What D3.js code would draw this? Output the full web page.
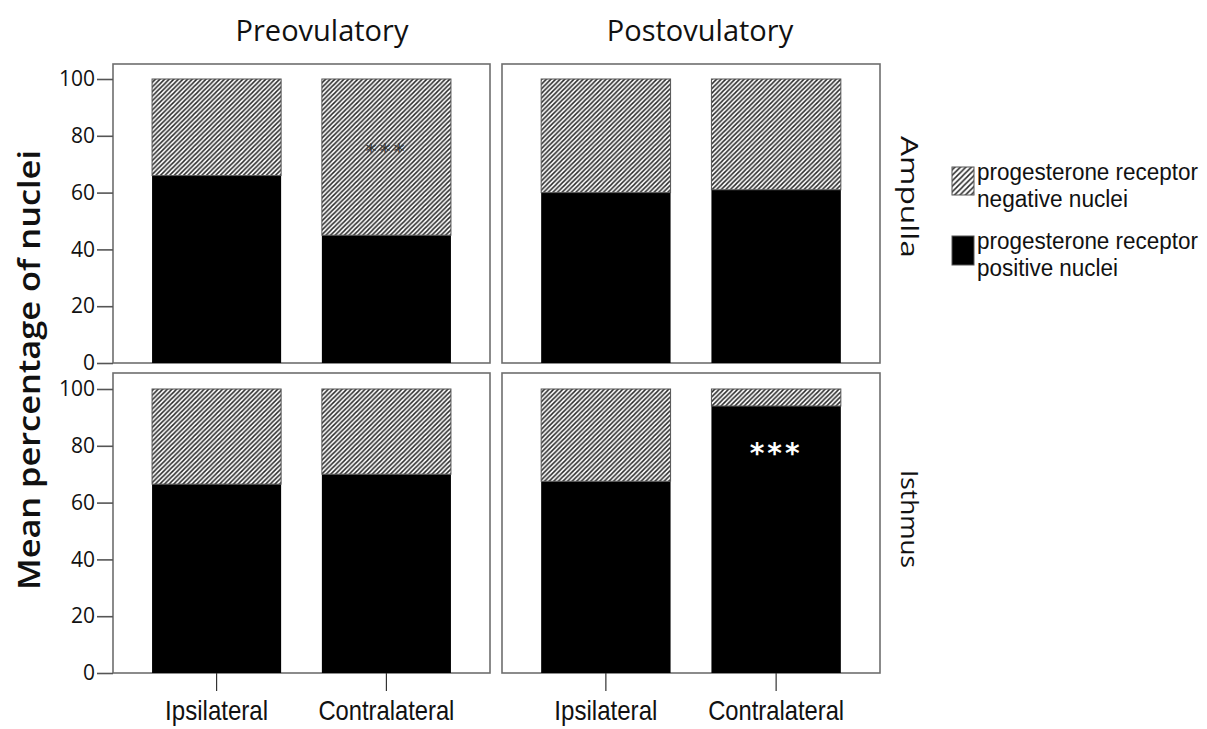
<!DOCTYPE html>
<html lang="en">
<head>
<meta charset="utf-8">
<script src="https://d3js.org/d3.v7.min.js"></script>
<style>
  body { margin: 0; background: #fff; }
  svg text { fill: #111; }
</style>
</head>
<body>
<div id="chart"></div>
<script>
// data
var phases = ["Preovulatory", "Postovulatory"];
var regions = ["Ampulla", "Isthmus"];
var sides = ["Ipsilateral", "Contralateral"];
// order: Pre-Ipsi, Pre-Contra, Post-Ipsi, Post-Contra
var positiveAmpulla = [66, 45, 60, 61];
var negativeAmpulla = [34, 55, 40, 39];
var positiveIsthmus = [66.5, 70, 67.5, 94];
var negativeIsthmus = [33.5, 30, 32.5, 6];
var yTicks = [0, 20, 40, 60, 80, 100];
var legendLabels = [["progesterone receptor", "negative nuclei"], ["progesterone receptor", "positive nuclei"]];
// significance marks: region, phase, side
var stars = [
  { region: "Ampulla", phase: "Preovulatory", side: "Contralateral", value: 72, text: "***", color: "#333" },
  { region: "Isthmus", phase: "Postovulatory", side: "Contralateral", value: 74, text: "***", color: "#fff" }
];

var width = 1207, height = 729;
var svg = d3.select("#chart").append("svg")
  .attr("width", width)
  .attr("height", height);

var defs = svg.append("defs");
function hatch(id, size, sw) {
  var p = defs.append("pattern")
    .attr("id", id)
    .attr("patternUnits", "userSpaceOnUse")
    .attr("width", size).attr("height", size);
  p.append("rect").attr("width", size).attr("height", size).attr("fill", "#fff");
  p.append("path")
    .attr("d", "M-1,1 l2,-2 M0," + size + " l" + size + "," + (-size) + " M" + (size - 1) + "," + (size + 1) + " l2,-2")
    .attr("stroke", "#2a2a2a")
    .attr("stroke-width", sw);
}
hatch("hatch", 4.6, 1.5);
hatch("hatchLegend", 5.5, 1.5);

// panel placement
var colRange = [[113, 490], [502, 880]];
var rowFrame = [[64, 363], [373, 673]];

var x = colRange.map(function(r) {
  return d3.scaleBand().domain(sides).range(r).paddingInner(0.24).paddingOuter(0.23);
});
var y = rowFrame.map(function(r) {
  return d3.scaleLinear().domain([0, 100]).range([r[1], r[1] - 284]);
});

var valuesByRegion = {
  Ampulla: { pos: positiveAmpulla, neg: negativeAmpulla },
  Isthmus: { pos: positiveIsthmus, neg: negativeIsthmus }
};

var narrow = "'Liberation Sans', Arial, sans-serif";
var sideLabelLen = { Ipsilateral: 103, Contralateral: 136 };

regions.forEach(function(region, ri) {
  phases.forEach(function(phase, pi) {
    var g = svg.append("g");
    var xs = x[pi], ys = y[ri];

    // frame
    g.append("rect")
      .attr("x", colRange[pi][0]).attr("y", rowFrame[ri][0])
      .attr("width", colRange[pi][1] - colRange[pi][0])
      .attr("height", rowFrame[ri][1] - rowFrame[ri][0])
      .attr("fill", "none")
      .attr("stroke", "#6e6e6e")
      .attr("stroke-width", 1.6);

    var rows = sides.map(function(s, si) {
      var k = pi * 2 + si;
      return { side: s, pos: valuesByRegion[region].pos[k], neg: valuesByRegion[region].neg[k] };
    });

    // positive (black) bars
    g.selectAll(".pos").data(rows).enter().append("rect")
      .attr("x", function(d) { return xs(d.side); })
      .attr("width", xs.bandwidth())
      .attr("y", function(d) { return ys(d.pos); })
      .attr("height", function(d) { return ys(0) - ys(d.pos); })
      .attr("fill", "#000");

    // negative (hatched) bars on top
    g.selectAll(".neg").data(rows).enter().append("rect")
      .attr("x", function(d) { return xs(d.side); })
      .attr("width", xs.bandwidth())
      .attr("y", function(d) { return ys(d.pos + d.neg); })
      .attr("height", function(d) { return ys(d.pos) - ys(d.pos + d.neg); })
      .attr("fill", "url(#hatch)")
      .attr("stroke", "#555")
      .attr("stroke-width", 1);

    // left axis on first column
    if (pi === 0) {
      var ax = g.append("g")
        .attr("transform", "translate(" + colRange[0][0] + ",0)")
        .call(d3.axisLeft(ys).tickValues(yTicks).tickSize(16).tickPadding(2));
      ax.select(".domain").remove();
      ax.selectAll("line").attr("stroke", "#555").attr("stroke-width", 1.6);
      ax.selectAll("text")
        .style("font-family", "'Open Sans', sans-serif")
        .style("font-size", "21px")
        .attr("fill", "#111");
    }

    // bottom axis on last row
    if (ri === regions.length - 1) {
      var bx = g.append("g")
        .attr("transform", "translate(0," + rowFrame[ri][1] + ")")
        .call(d3.axisBottom(xs).tickSize(18).tickPadding(8));
      bx.select(".domain").remove();
      bx.selectAll("line").attr("stroke", "#333").attr("stroke-width", 1.2);
      bx.selectAll("text")
        .style("font-family", narrow)
        .style("font-size", "28px")
        .attr("dy", "0.75em")
        .attr("textLength", function(d) { return sideLabelLen[d]; })
        .attr("lengthAdjust", "spacingAndGlyphs")
        .attr("fill", "#111");
    }
  });
});

// significance stars
stars.forEach(function(s) {
  var ri = regions.indexOf(s.region), pi = phases.indexOf(s.phase);
  svg.append("text")
    .attr("x", x[pi](s.side) + x[pi].bandwidth() / 2)
    .attr("y", y[ri](s.value))
    .attr("text-anchor", "middle")
    .style("font-family", "'DejaVu Sans', sans-serif")
    .style("font-size", s.color === "#fff" ? "28px" : "22px")
    .style("font-weight", s.color === "#fff" ? "bold" : "normal")
    .style("letter-spacing", "3px")
    .style("fill", s.color)
    .text(s.text);
});

// column titles
var titleX = [322, 700];
phases.forEach(function(p, i) {
  svg.append("text")
    .attr("x", titleX[i]).attr("y", 41)
    .attr("text-anchor", "middle")
    .style("font-family", "'Open Sans', sans-serif")
    .style("font-size", "29px")
    .text(p);
});

// row labels on the right
var rowLabelY = [197, 519];
var rowLabelLen = [122, 98];
regions.forEach(function(r, i) {
  svg.append("text")
    .attr("transform", "translate(901," + rowLabelY[i] + ") rotate(90)")
    .attr("text-anchor", "middle")
    .attr("textLength", rowLabelLen[i])
    .attr("lengthAdjust", "spacingAndGlyphs")
    .style("font-family", "'Open Sans', sans-serif")
    .style("font-size", "24px")
    .text(r);
});

// y title
svg.append("text")
  .attr("transform", "translate(40,370) rotate(-90)")
  .attr("text-anchor", "middle")
  .attr("textLength", 440)
  .attr("lengthAdjust", "spacingAndGlyphs")
  .style("font-family", "'Open Sans', sans-serif")
  .style("font-size", "31px")
  .style("font-weight", "600")
  .text("Mean percentage of nuclei");

// legend
var legendFill = ["url(#hatchLegend)", "#000"];
var legendTop = [167, 236];
var legendLen = [[221, 151], [221, 141]];
legendLabels.forEach(function(lines, i) {
  svg.append("rect")
    .attr("x", 952).attr("y", legendTop[i])
    .attr("width", 22).attr("height", i === 0 ? 28 : 29)
    .attr("fill", legendFill[i])
    .attr("stroke", "#555")
    .attr("stroke-width", 1);
  lines.forEach(function(t, j) {
    svg.append("text")
      .attr("x", 977)
      .attr("y", legendTop[i] + 13 + j * 27)
      .attr("textLength", legendLen[i][j])
      .attr("lengthAdjust", "spacingAndGlyphs")
      .style("font-family", narrow)
      .style("font-size", "23px")
      .text(t);
  });
});
</script>
</body>
</html>
